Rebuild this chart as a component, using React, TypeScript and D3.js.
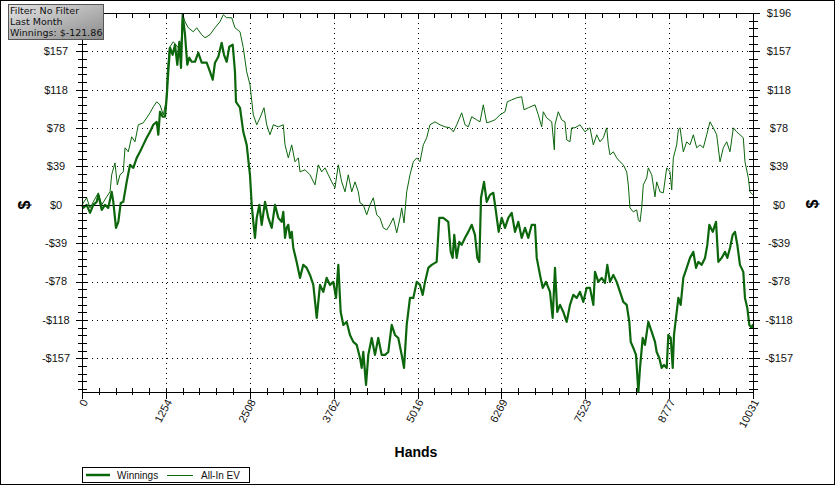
import React from "react";
import * as d3 from "d3";

// [hands, dollars]
const winnings: [number, number][] = [
  [0, 0], [19, -3.1], [70, 0], [120, -8.2], [169, 0], [220, 3.1], [244, 10.2], [295, -5.1], [344, 0], [393, -3.1],
  [444, 13.3], [468, 3.1], [508, -23.5], [543, -17.4], [579, 2.0], [617, 3.1], [668, 23.5], [718, 40.9], [767, 37.8],
  [818, 48.0], [867, 54.2], [916, 61.3], [967, 68.5], [1017, 74.6], [1066, 81.8], [1117, 84.8], [1141, 71.6],
  [1166, 95.1], [1206, 90.0], [1241, 90.0], [1266, 109.4], [1290, 136.0], [1316, 160.5], [1356, 153.3], [1390, 163.6],
  [1425, 143.1], [1455, 166.6], [1480, 140.0], [1505, 194.2], [1540, 173.8], [1574, 143.1], [1604, 150.3], [1640, 146.2],
  [1689, 146.2], [1739, 155.4], [1789, 145.2], [1864, 145.2], [1913, 136.0], [1954, 127.8], [1988, 145.2], [2038, 151.3],
  [2088, 165.6], [2123, 153.3], [2163, 146.2], [2202, 161.5], [2253, 163.6], [2287, 136.0], [2302, 105.3], [2362, 99.2],
  [2411, 74.6], [2462, 61.3], [2511, 30.7], [2537, 0], [2561, -17.4], [2586, -33.7], [2612, -13.3], [2651, 0],
  [2686, -20.4], [2736, 3.1], [2785, -13.3], [2836, -23.5], [2885, 0], [2935, -13.3], [2985, -17.4], [3009, -7.2],
  [3035, -33.7], [3060, -23.5], [3084, -20.4], [3109, -33.7], [3135, -27.6], [3159, -44.0], [3209, -58.3], [3259, -74.6],
  [3308, -61.3], [3359, -64.4], [3408, -71.6], [3458, -81.8], [3509, -115.5], [3558, -81.8], [3607, -88.9], [3658, -74.6],
  [3707, -81.8], [3757, -78.7], [3797, -95.1], [3832, -61.3], [3867, -109.4], [3907, -122.7], [3957, -119.6],
  [4006, -132.9], [4056, -140.0], [4107, -143.1], [4156, -156.4], [4181, -166.6], [4205, -150.3], [4246, -184.0],
  [4280, -153.3], [4331, -136.0], [4380, -153.3], [4429, -136.0], [4480, -153.3], [4530, -153.3], [4579, -150.3],
  [4630, -122.7], [4679, -132.9], [4728, -136.0], [4779, -153.3], [4814, -166.6], [4854, -122.7], [4903, -95.1],
  [4953, -95.1], [5004, -78.7], [5053, -81.8], [5093, -92.0], [5128, -78.7], [5177, -64.4], [5227, -61.3], [5302, -58.3],
  [5341, -13.3], [5401, -13.3], [5476, -17.4], [5512, -48.0], [5541, -54.2], [5565, -30.7], [5601, -54.2], [5640, -37.8],
  [5676, -40.9], [5726, -33.7], [5775, -27.6], [5826, -20.4], [5875, -30.7], [5910, -54.2], [5940, -58.3], [5965, 7.2],
  [6010, 23.5], [6050, 3.1], [6099, 10.2], [6149, 12.3], [6189, -7.2], [6229, -27.6], [6274, -13.3], [6324, -23.5],
  [6373, -13.3], [6424, -8.2], [6473, -27.6], [6523, -17.4], [6573, -33.7], [6623, -23.5], [6672, -33.7], [6723, -20.4],
  [6772, -20.4], [6798, -54.2], [6847, -71.6], [6887, -84.8], [6937, -78.7], [6996, -88.9], [7036, -115.5], [7071, -64.4],
  [7105, -109.4], [7146, -102.2], [7195, -109.4], [7246, -119.6], [7295, -102.2], [7345, -92.0], [7395, -95.1],
  [7445, -88.9], [7494, -99.2], [7545, -84.8], [7594, -84.8], [7644, -102.2], [7669, -68.5], [7719, -78.7], [7769, -74.6],
  [7818, -79.7], [7853, -61.3], [7893, -78.7], [7943, -71.6], [7993, -78.7], [8043, -88.9], [8092, -99.2], [8143, -102.2],
  [8182, -119.6], [8203, -140.0], [8242, -146.2], [8282, -153.3], [8317, -191.2], [8342, -166.6], [8382, -136.0],
  [8416, -143.1], [8466, -119.6], [8517, -129.8], [8566, -140.0], [8591, -150.3], [8630, -156.4], [8666, -166.6],
  [8700, -163.6], [8741, -166.6], [8765, -132.9], [8801, -136.0], [8831, -166.6], [8850, -132.9], [8880, -115.5],
  [8915, -95.1], [8950, -102.2], [8989, -74.6], [9040, -64.4], [9089, -54.2], [9139, -48.0], [9179, -64.4], [9214, -58.3],
  [9264, -61.3], [9314, -54.2], [9348, -40.9], [9378, -20.4], [9429, -27.6], [9478, -17.4], [9513, -58.3], [9563, -54.2],
  [9613, -48.0], [9647, -54.2], [9687, -44.0], [9727, -30.7], [9762, -27.6], [9797, -40.9], [9836, -61.3], [9886, -68.5],
  [9911, -95.1], [9946, -105.3], [9976, -122.7], [10012, -125.7], [10031, -121.86],
];

const allInEV: [number, number][] = [
  [0, 0], [70, 7.2], [120, -3.1], [169, 3.1], [244, 12.3], [295, 0], [369, 8.2], [419, 13.3], [444, 30.7], [493, 42.9],
  [528, 20.4], [568, 30.7], [617, 33.7], [643, 58.3], [692, 54.2], [743, 69.5], [792, 64.4], [842, 81.8], [916, 83.8],
  [967, 88.9], [1017, 94.0], [1066, 100.2], [1117, 105.3], [1166, 102.2], [1215, 92.0], [1256, 105.3], [1275, 136.0],
  [1305, 160.5], [1365, 166.6], [1440, 160.5], [1475, 156.4], [1505, 194.2], [1540, 187.1], [1589, 180.9], [1664, 176.8],
  [1715, 180.9], [1789, 173.8], [1839, 170.7], [1913, 173.8], [1988, 180.9], [2063, 187.1], [2112, 194.2], [2163, 191.2],
  [2238, 191.2], [2287, 180.9], [2362, 176.8], [2411, 160.5], [2462, 136.0], [2511, 122.7], [2561, 92.0], [2612, 81.8],
  [2661, 88.9], [2721, 99.2], [2761, 81.8], [2810, 71.6], [2861, 81.8], [2935, 79.7], [3009, 81.8], [3035, 61.3],
  [3084, 48.0], [3135, 61.3], [3184, 44.0], [3234, 48.0], [3259, 33.7], [3334, 35.8], [3408, 30.7], [3483, 20.4],
  [3533, 40.9], [3583, 33.7], [3633, 37.8], [3682, 30.7], [3733, 23.5], [3782, 17.4], [3832, 40.9], [3882, 23.5],
  [3932, 13.3], [3981, 30.7], [4032, 13.3], [4081, 23.5], [4131, 13.3], [4156, 2.0], [4205, 0], [4256, -10.2], [4305, 0],
  [4355, 7.2], [4406, -10.2], [4455, -13.3], [4504, -23.5], [4555, -25.6], [4604, -20.4], [4654, -13.3], [4705, -28.6],
  [4754, -13.3], [4779, -3.1], [4814, -18.4], [4854, 13.3], [4903, 30.7], [4953, 44.0], [5004, 48.0], [5053, 44.0],
  [5102, 61.3], [5153, 68.5], [5202, 81.8], [5277, 84.8], [5352, 81.8], [5427, 79.7], [5501, 78.7], [5551, 74.6],
  [5602, 81.8], [5676, 94.0], [5726, 81.8], [5775, 79.7], [5826, 90.0], [5900, 86.9], [5950, 84.8], [5999, 102.2],
  [6050, 83.8], [6099, 84.8], [6174, 86.9], [6249, 92.0], [6324, 95.1], [6358, 105.3], [6424, 107.3], [6499, 109.4],
  [6573, 110.4], [6608, 97.1], [6672, 99.2], [6772, 102.2], [6821, 92.0], [6872, 79.7], [6896, 95.1], [6947, 88.9],
  [7022, 84.8], [7061, 56.2], [7071, 81.8], [7120, 95.1], [7171, 86.9], [7220, 84.8], [7246, 66.4], [7295, 64.4],
  [7320, 78.7], [7370, 78.7], [7445, 81.8], [7519, 74.6], [7594, 78.7], [7644, 61.3], [7695, 71.6], [7744, 64.4],
  [7793, 68.5], [7844, 78.7], [7868, 61.3], [7893, 51.1], [7943, 54.2], [7993, 48.0], [8043, 44.0], [8092, 40.9],
  [8143, 33.7], [8167, 20.4], [8192, -3.1], [8242, -7.2], [8292, -5.1], [8317, -15.3], [8342, -17.4], [8367, -3.1],
  [8391, 20.4], [8442, 27.6], [8466, 37.8], [8517, 30.7], [8566, 8.2], [8591, 23.5], [8641, 13.3], [8690, 12.3],
  [8741, 37.8], [8790, 33.7], [8816, 15.3], [8840, 48.0], [8890, 61.3], [8915, 76.7], [8940, 78.7], [8989, 54.2],
  [9040, 64.4], [9089, 61.3], [9139, 71.6], [9189, 58.3], [9239, 61.3], [9288, 58.3], [9339, 71.6], [9388, 84.8],
  [9438, 78.7], [9488, 71.6], [9538, 44.0], [9587, 58.3], [9638, 64.4], [9687, 54.2], [9737, 78.7], [9787, 74.6],
  [9836, 71.6], [9886, 68.5], [9911, 44.0], [9961, 27.6], [9986, 13.3], [10031, 10.2],
];

const xTickLabels = ["0", "1254", "2508", "3762", "5016", "6269", "7523", "8777", "10031"];
const yTickValues = [-156.8, -117.6, -78.4, -39.2, 0, 39.2, 78.4, 117.6, 156.8, 196];
const infoLines = ["Filter: No Filter", "Last Month", "Winnings: $-121.86"];
const seriesNames = ["Winnings", "All-In EV"];
const xMax = 10031;
const yDomain: [number, number] = [-191.2, 196];

const GREEN = "#0c660c";
const SANS = "'Liberation Sans', Arial, sans-serif";

export default function App() {
  const L = 82, R = 753, T = 13, B = 392;
  const x = d3.scaleLinear().domain([0, xMax]).range([L, R]);
  const y = d3.scaleLinear().domain(yDomain).range([B, T]);
  const line = d3.line<[number, number]>().x((d) => x(d[0])).y((d) => y(d[1]));

  const xMajor = xTickLabels.map((_, i) => (i * xMax) / (xTickLabels.length - 1));
  const xStep = xMax / 40;
  const xMinor = d3.range(0, 41).map((i) => i * xStep);
  const yStep = 39.2 / 5;
  const yMinor: number[] = [];
  for (let v = 196; v >= yDomain[0] - 0.001; v -= yStep) yMinor.push(v);

  const fmt = (v: number) => (v < 0 ? "-$" + Math.round(-v) : "$" + Math.round(v));
  const px = (v: number) => Math.round(v) + 0.5;

  return (
    <svg width={836} height={495} style={{ position: "absolute", left: 0, top: 0, background: "#fff" }}>
      <defs>
        <linearGradient id="infoGrad" x1="0" y1="0" x2="1" y2="1">
          <stop offset="0" stopColor="#e4e4e4" />
          <stop offset="1" stopColor="#8a8a8a" />
        </linearGradient>
      </defs>
      <rect x={0} y={0} width={836} height={495} fill="#fff" />
      <rect x={0.5} y={0.5} width={834} height={484} fill="none" stroke="#000" />

      {/* grid */}
      <g stroke="#000" strokeDasharray="1,4" shapeRendering="crispEdges">
        {yTickValues.filter((v) => v !== 0 && v !== 196).map((v, i) => (
          <line key={"gy" + i} x1={L} x2={R} y1={px(y(v))} y2={px(y(v))} />
        ))}
        {xMajor.slice(1, -1).map((v, i) => (
          <line key={"gx" + i} x1={px(x(v))} x2={px(x(v))} y1={T} y2={B} />
        ))}
      </g>
      {/* zero line */}
      <line x1={L} x2={R} y1={px(y(0))} y2={px(y(0))} stroke="#000" shapeRendering="crispEdges" />

      {/* series */}
      <path d={line(allInEV) || ""} fill="none" stroke={GREEN} strokeWidth={1} strokeLinejoin="round" />
      <path d={line(winnings) || ""} fill="none" stroke={GREEN} strokeWidth={2.2} strokeLinejoin="round" />

      {/* axes frame */}
      <g stroke="#000" shapeRendering="crispEdges">
        <line x1={L} x2={R} y1={px(T)} y2={px(T)} />
        <line x1={L} x2={R + 1} y1={px(B)} y2={px(B)} />
        <line x1={px(L)} x2={px(L)} y1={T} y2={B + 1} />
        <line x1={px(R)} x2={px(R)} y1={T} y2={B + 1} />
        {xMinor.map((v, i) => (
          <g key={"xm" + i}>
            <line x1={px(x(v))} x2={px(x(v))} y1={B - 4} y2={B + (i % 5 === 0 ? 7 : 3)} />
            <line x1={px(x(v))} x2={px(x(v))} y1={T} y2={T + 5} />
          </g>
        ))}
        {yMinor.map((v, i) => {
          const major = i % 5 === 0;
          return (
            <g key={"ym" + i}>
              <line x1={L - (major ? 6 : 4)} x2={L + 5} y1={px(y(v))} y2={px(y(v))} />
              <line x1={R - 4} x2={R + (major ? 7 : 5)} y1={px(y(v))} y2={px(y(v))} />
            </g>
          );
        })}
      </g>

      {/* y tick labels */}
      <g fontFamily={SANS} fontSize={11} fill="#111" textAnchor="middle">
        {yTickValues.filter((v) => v !== 196).map((v, i) => (
          <text key={"yl" + i} x={56} y={y(v)} dy="0.35em">{fmt(v)}</text>
        ))}
        {yTickValues.map((v, i) => (
          <text key={"yr" + i} x={779} y={y(v)} dy="0.35em">{fmt(v)}</text>
        ))}
      </g>

      {/* x tick labels */}
      <g fontFamily={SANS} fontSize={11} fill="#111" textAnchor="end">
        {xMajor.map((v, i) => {
          const tx = x(v) + 3;
          const ty = 400;
          return (
            <text key={"xl" + i} x={tx} y={ty} dy="0.35em" transform={`rotate(-62 ${tx} ${ty})`}>
              {xTickLabels[i]}
            </text>
          );
        })}
      </g>

      {/* axis titles */}
      <text x={416} y={457} textAnchor="middle" fontFamily={SANS} fontSize={14} fontWeight="bold" fill="#000">Hands</text>
      <text x={24} y={205} textAnchor="middle" dy="0.35em" fontFamily={SANS} fontSize={16} fontWeight="bold"
        transform="rotate(-90 24 205)">$</text>
      <text x={812} y={204} textAnchor="middle" dy="0.35em" fontFamily={SANS} fontSize={16} fontWeight="bold"
        transform="rotate(-90 812 204)">$</text>

      {/* info box */}
      <rect x={8.5} y={4.5} width={95} height={35} fill="url(#infoGrad)" stroke="#555" />
      <g fontFamily="'DejaVu Sans', Verdana, sans-serif" fontSize={9.5} fill="#111">
        {infoLines.map((t, i) => (
          <text key={"info" + i} x={10} y={14 + i * 11.2}>{t}</text>
        ))}
      </g>

      {/* legend */}
      <rect x={82.5} y={467.5} width={167} height={15} fill="#fff" stroke="#000" />
      <line x1={86} x2={110} y1={475} y2={475} stroke={GREEN} strokeWidth={2.5} />
      <text x={117} y={478.5} fontFamily={SANS} fontSize={10} fill="#111">{seriesNames[0]}</text>
      <line x1={167} x2={193} y1={475.5} y2={475.5} stroke={GREEN} strokeWidth={1} />
      <text x={201} y={478.5} fontFamily={SANS} fontSize={10} fill="#111">{seriesNames[1]}</text>
    </svg>
  );
}
